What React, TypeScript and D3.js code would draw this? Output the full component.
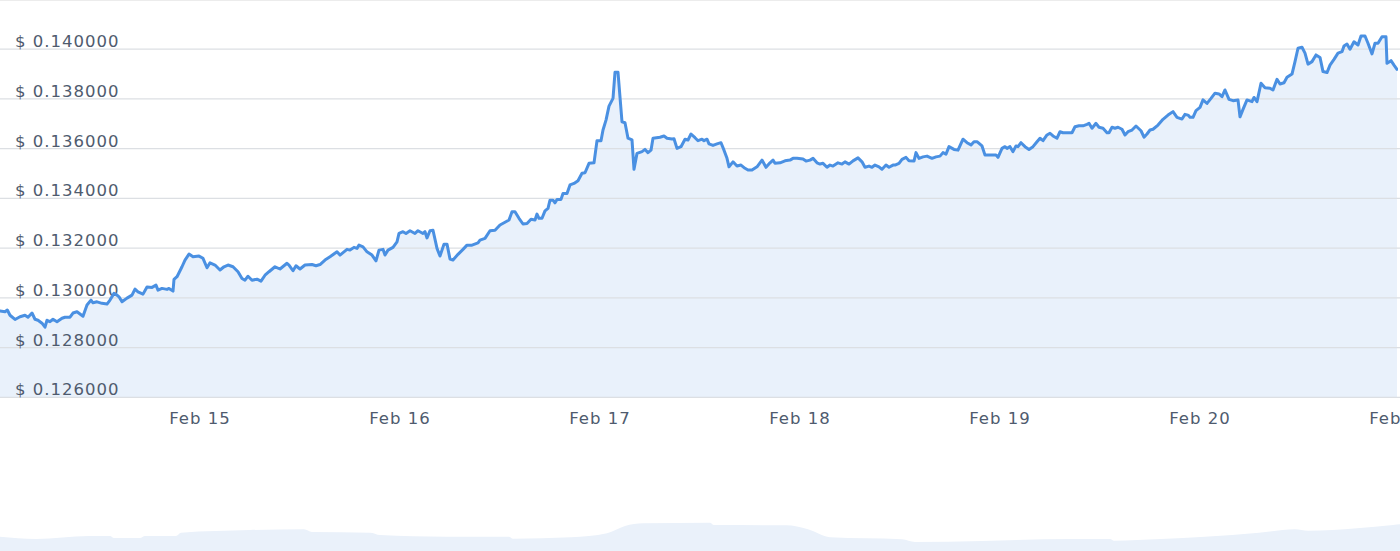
import React from "react";
import * as d3 from "d3";

// [hours since Feb 14 00:00, price in USD]
const feb14: [number, number][] = [
  [0, 0.12947], [0.6, 0.12944], [0.88, 0.12951], [1.2, 0.1293], [1.8, 0.12913], [2.4, 0.12924], [3, 0.1293], [3.36, 0.12922],
  [3.84, 0.12939], [4.2, 0.12914], [4.56, 0.1291], [5.04, 0.12898], [5.4, 0.12882], [5.64, 0.1291], [6, 0.12904], [6.36, 0.12914],
  [6.84, 0.12904], [7.44, 0.12918], [7.8, 0.12922], [8.4, 0.12922], [8.76, 0.12939], [9.24, 0.12944], [9.96, 0.12926], [10.44, 0.12971],
  [10.92, 0.12991], [11.16, 0.1298], [11.64, 0.12984], [12.24, 0.12978], [12.84, 0.12975], [13.2, 0.12991], [13.68, 0.13018], [14.04, 0.13011],
  [14.28, 0.13004], [14.64, 0.12984], [15.24, 0.12999], [15.84, 0.13011], [16.2, 0.13035], [16.56, 0.13024], [17.16, 0.13015], [17.64, 0.13044],
  [18.24, 0.13042], [18.72, 0.13051], [18.96, 0.13031], [19.44, 0.13038], [20.04, 0.13034], [20.28, 0.13038], [20.76, 0.13027], [20.88, 0.13074],
  [21.24, 0.13085], [21.84, 0.13125], [22.2, 0.13152], [22.68, 0.13176], [23.16, 0.13165], [23.88, 0.13168],
];
const feb15: [number, number][] = [
  [24.36, 0.13159], [24.84, 0.13121], [25.2, 0.13141], [25.8, 0.13132], [26.4, 0.13112], [26.88, 0.13125], [27.36, 0.13132], [27.96, 0.13125],
  [28.56, 0.13105], [29.04, 0.13078], [29.4, 0.13071], [29.76, 0.13087], [30.24, 0.13071], [30.84, 0.13075], [31.32, 0.13067], [31.8, 0.13091],
  [32.28, 0.13105], [33, 0.13125], [33.6, 0.13116], [34.44, 0.13139], [34.68, 0.13132], [35.16, 0.13109], [35.52, 0.13129], [36, 0.13116],
  [36.6, 0.13132], [37.44, 0.13134], [37.92, 0.13129], [38.4, 0.13134], [39, 0.13152], [39.6, 0.13165], [40.44, 0.13185], [40.8, 0.13172],
  [41.64, 0.13195], [42, 0.13192], [42.48, 0.13203], [42.84, 0.13199], [43.08, 0.13212], [43.56, 0.13205], [44.04, 0.13185], [44.64, 0.13172],
  [45.12, 0.13149], [45.48, 0.13192], [45.96, 0.13195], [46.2, 0.13172], [46.56, 0.13192], [47.16, 0.13203], [47.64, 0.13225], [47.88, 0.13259],
];
const feb16: [number, number][] = [
  [48.36, 0.13266], [48.72, 0.13259], [49.2, 0.1327], [49.8, 0.13259], [50.16, 0.1327], [50.76, 0.13259], [51, 0.13266], [51.24, 0.13241],
  [51.6, 0.1327], [51.96, 0.13272], [52.44, 0.13199], [52.8, 0.13168], [53.28, 0.13216], [53.64, 0.13216], [54, 0.13156], [54.36, 0.13152],
  [54.96, 0.13175], [55.56, 0.13195], [56.04, 0.13212], [56.64, 0.13212], [57.36, 0.13221], [57.6, 0.13232], [58.2, 0.13239], [58.8, 0.1327],
  [59.4, 0.13272], [60, 0.13293], [60.6, 0.13304], [61.08, 0.13313], [61.44, 0.13346], [61.8, 0.13346], [62.28, 0.1332], [62.76, 0.13297],
  [63.24, 0.13299], [63.72, 0.13316], [64.2, 0.13313], [64.44, 0.13337], [64.68, 0.1332], [65.04, 0.1332], [65.4, 0.1335], [65.76, 0.1336],
  [66, 0.13393], [66.36, 0.13393], [66.6, 0.13382], [66.84, 0.13396], [67.32, 0.13396], [67.56, 0.1342], [68.04, 0.1342], [68.4, 0.13454],
  [68.88, 0.1346], [69.36, 0.13471], [69.84, 0.13501], [70.2, 0.13503], [70.68, 0.13541], [71.28, 0.13543], [71.64, 0.13632],
];
const feb17: [number, number][] = [
  [72.12, 0.13632], [72.36, 0.13675], [72.72, 0.13715], [73.08, 0.13771], [73.56, 0.13802], [73.8, 0.13907], [74.16, 0.13907], [74.64, 0.13708],
  [75, 0.13704], [75.36, 0.13642], [75.84, 0.13635], [76.08, 0.13517], [76.44, 0.13581], [77.04, 0.13588], [77.4, 0.13597], [77.76, 0.13584],
  [78.12, 0.13594], [78.36, 0.13642], [79.2, 0.13646], [79.68, 0.13651], [80.04, 0.13642], [80.64, 0.13639], [80.88, 0.1364], [81.24, 0.13601],
  [81.72, 0.13608], [82.2, 0.13638], [82.56, 0.13635], [82.92, 0.13659], [83.4, 0.13644], [83.76, 0.13632], [84.24, 0.13638], [84.48, 0.13632],
  [84.84, 0.13638], [85.08, 0.13619], [85.56, 0.13613], [86.04, 0.13619], [86.52, 0.13624], [86.88, 0.13594], [87.24, 0.13561], [87.48, 0.13527],
  [87.96, 0.13547], [88.44, 0.1353], [88.92, 0.13534], [89.4, 0.13521], [89.76, 0.13514], [90.24, 0.13514], [90.84, 0.13527], [91.44, 0.13554],
  [91.92, 0.13525], [92.4, 0.13543], [92.76, 0.13554], [93, 0.13541], [93.6, 0.13543], [94.2, 0.13551], [94.8, 0.13554], [95.16, 0.13561],
  [95.64, 0.13561],
];
const feb18: [number, number][] = [
  [96.36, 0.13558], [96.72, 0.1355], [97.2, 0.13554], [97.56, 0.13561], [98.04, 0.13543], [98.4, 0.13538], [98.76, 0.13541], [99.24, 0.13525],
  [99.6, 0.13534], [99.96, 0.1353], [100.56, 0.13543], [101.04, 0.13538], [101.4, 0.13547], [101.88, 0.13538], [102.36, 0.13551], [102.96, 0.13563],
  [103.44, 0.13547], [103.8, 0.13525], [104.28, 0.1353], [104.64, 0.13525], [105, 0.13534], [105.48, 0.13527], [105.84, 0.13517], [106.32, 0.13534],
  [106.68, 0.13525], [107.16, 0.13534], [107.4, 0.13534], [107.88, 0.13541], [108.24, 0.13557], [108.72, 0.13565], [109.08, 0.13551], [109.68, 0.1355],
  [109.92, 0.13584], [110.28, 0.13561], [110.76, 0.13567], [111.24, 0.1357], [111.84, 0.13561], [112.32, 0.13567], [112.8, 0.1357], [113.16, 0.13584],
  [113.52, 0.13578], [113.88, 0.13608], [114.48, 0.13597], [114.96, 0.13594], [115.56, 0.13638], [116.04, 0.13624], [116.52, 0.13615], [116.88, 0.13628],
  [117.24, 0.13628], [117.84, 0.13611], [118.2, 0.13574], [118.8, 0.13574], [119.52, 0.13574], [119.76, 0.13565],
];
const feb19: [number, number][] = [
  [120.24, 0.13601], [120.6, 0.13608], [120.84, 0.13601], [121.2, 0.13608], [121.56, 0.13588], [121.92, 0.13611], [122.16, 0.13608], [122.52, 0.13624],
  [123, 0.13608], [123.48, 0.13597], [123.96, 0.13608], [124.44, 0.13628], [124.8, 0.13642], [125.16, 0.13632], [125.64, 0.13655], [126, 0.13662],
  [126.36, 0.13651], [126.84, 0.13642], [127.2, 0.13668], [127.56, 0.13664], [128.04, 0.13664], [128.64, 0.13664], [129, 0.13688], [129.48, 0.13692],
  [129.96, 0.13692], [130.44, 0.13698], [130.68, 0.13702], [131.04, 0.13682], [131.52, 0.13702], [131.88, 0.13686], [132.36, 0.13682], [132.84, 0.13664],
  [133.08, 0.13664], [133.44, 0.13686], [133.8, 0.13682], [134.16, 0.13686], [134.64, 0.13678], [135, 0.13655], [135.36, 0.13668], [135.84, 0.13675],
  [136.32, 0.13691], [136.92, 0.13672], [137.28, 0.13646], [137.64, 0.13659], [138, 0.13675], [138.36, 0.13678], [138.96, 0.13695], [139.56, 0.13718],
  [140.16, 0.13735], [140.76, 0.13749], [141.24, 0.13726], [141.84, 0.13719], [142.2, 0.13738], [142.56, 0.13735], [142.8, 0.13726], [143.16, 0.13726],
  [143.52, 0.13753],
];
const feb20: [number, number][] = [
  [144, 0.13766], [144.36, 0.13796], [144.84, 0.13782], [145.32, 0.13802], [145.8, 0.13823], [146.28, 0.1382], [146.64, 0.13809], [147, 0.13836],
  [147.48, 0.13798], [147.96, 0.13793], [148.56, 0.13796], [148.8, 0.13728], [149.16, 0.13758], [149.64, 0.13796], [150.24, 0.13789], [150.48, 0.13806],
  [150.84, 0.13789], [151.32, 0.13863], [151.8, 0.13845], [152.4, 0.13843], [152.76, 0.13836], [153.24, 0.13879], [153.6, 0.1386], [154.08, 0.13865],
  [154.44, 0.13887], [155.04, 0.139], [155.4, 0.1395], [155.76, 0.14004], [156.24, 0.14008], [156.6, 0.13984], [156.96, 0.1394], [157.44, 0.1395],
  [157.92, 0.13977], [158.4, 0.13967], [158.76, 0.1391], [159.24, 0.13906], [159.6, 0.13936], [160.08, 0.13959], [160.56, 0.13984], [161.04, 0.1399],
  [161.28, 0.14013], [161.64, 0.14021], [162, 0.14], [162.48, 0.1403], [162.96, 0.14017], [163.32, 0.14053], [163.8, 0.14053], [164.16, 0.14024],
  [164.64, 0.13981], [165, 0.14024], [165.36, 0.14024], [165.84, 0.1405], [166.32, 0.1405], [166.44, 0.13943], [166.92, 0.13954], [167.28, 0.13936],
  [167.64, 0.13919],
];

const yTicks = [0.126, 0.128, 0.13, 0.132, 0.134, 0.136, 0.138, 0.14];
const xTickHours = [24, 48, 72, 96, 120, 144, 168];
const xTickLabels = ["Feb 15", "Feb 16", "Feb 17", "Feb 18", "Feb 19", "Feb 20", "Feb 21"];

// navigator (longer history, days from its start)
const navDays = [0, 0.72, 1.78, 2.2, 2.28, 2.8, 2.9, 3.52, 3.62, 5, 6.08, 6.24, 7.4, 7.6, 8.92, 10.18, 10.26, 11.42, 12.14, 12.5,
  12.86, 14.2, 14.28, 15.72, 16.16, 16.6, 18.04, 18.3, 19.64, 21.42, 22.2, 22.28, 23.22, 24.1, 25.18, 25.9, 26.16, 27.14, 27.86, 28];
const navValues = [0.1243, 0.122, 0.125, 0.125, 0.123, 0.123, 0.125, 0.125, 0.1283, 0.131, 0.1317, 0.129, 0.1283, 0.126, 0.1243,
  0.1243, 0.1223, 0.1237, 0.1277, 0.135, 0.1377, 0.1383, 0.136, 0.1357, 0.1317, 0.1237, 0.1217, 0.119, 0.12, 0.122, 0.122, 0.1203,
  0.122, 0.1243, 0.1283, 0.1317, 0.1303, 0.1327, 0.136, 0.1367];

const W = 1400;
const H = 551;
const TEXT = "#4f5b6e";
const FONT = "'DejaVu Sans', Verdana, sans-serif";

export default function App() {
  const data = [...feb14, ...feb15, ...feb16, ...feb17, ...feb18, ...feb19, ...feb20];
  const x = d3.scaleLinear().domain([0, 168]).range([0, 1400]);
  const y = d3.scaleLinear().domain([0.126, 0.14]).range([397.3, 49.2]);
  const line = d3.line<[number, number]>().x((d) => x(d[0])).y((d) => y(d[1]));
  const area = d3
    .area<[number, number]>()
    .x((d) => x(d[0]))
    .y0(y(0.126))
    .y1((d) => y(d[1]));

  const nx = d3.scaleLinear().domain([0, 28]).range([0, W]);
  const ny = d3.scaleLinear().domain([0.11, 0.14]).range([H, 521]);
  const navData = navDays.map((d, i) => [d, navValues[i]] as [number, number]);
  const navArea = d3
    .area<[number, number]>()
    .x((d) => nx(d[0]))
    .y0(H)
    .y1((d) => ny(d[1]))
    .curve(d3.curveMonotoneX);

  const fmt = d3.format(".6f");

  return (
    <svg
      width={W}
      height={H}
      style={{ position: "absolute", left: 0, top: 0, background: "#fff" }}
      fontFamily={FONT}
    >
      <defs>
        <clipPath id="plot">
          <rect x={0} y={0} width={1398} height={398} />
        </clipPath>
      </defs>
      <rect x={0} y={0} width={W} height={H} fill="#fff" />
      <line x1={0} x2={W} y1={0.5} y2={0.5} stroke="#ececec" strokeWidth={1} />
      <path d={area(data) || ""} fill="#e9f1fb" clipPath="url(#plot)" />
      {yTicks.map((t) => (
        <line key={t} x1={0} x2={W} y1={y(t)} y2={y(t)} stroke="#dcdfe3" strokeWidth={1.2} />
      ))}
      {yTicks.map((t) => (
        <text key={"l" + t} x={15} y={y(t) - 2} fill={TEXT} fontSize={16.5} letterSpacing={1}>
          {"$ " + fmt(t)}
        </text>
      ))}
      <path
        d={line(data) || ""}
        fill="none"
        stroke="#4a90e2"
        strokeWidth={3}
        strokeLinejoin="round"
        strokeLinecap="round"
        clipPath="url(#plot)"
      />
      {xTickHours.map((h, i) => (
        <text key={h} x={x(h)} y={423.5} textAnchor="middle" fill={TEXT} fontSize={16.5} letterSpacing={1}>
          {xTickLabels[i]}
        </text>
      ))}
      <path d={navArea(navData) || ""} fill="#eaf1fa" />
    </svg>
  );
}
